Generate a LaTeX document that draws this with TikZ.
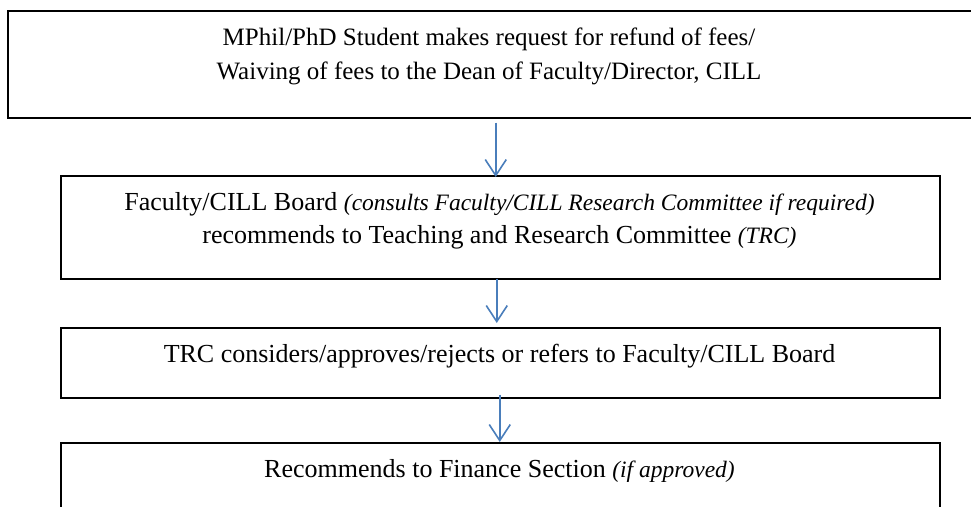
\documentclass[tikz,border=0pt]{standalone}
\usepackage{fontspec}
\setmainfont{Liberation Serif}
\usetikzlibrary{arrows.meta,calc}
\definecolor{arrowblue}{RGB}{74,126,187}
\newcommand{\itpart}[1]{{\fontsize{23.5}{28}\selectfont\itshape #1}}
\tikzset{
  box/.style={draw=black, line width=1.5pt, anchor=north west, inner sep=0pt, minimum width=879pt},
  txt/.style={anchor=base, inner sep=0pt, font=\fontsize{26}{31}\selectfont},
  txtA/.style={anchor=base, inner sep=0pt, font=\fontsize{25}{30}\selectfont},
  flow/.style={draw=arrowblue, line width=1.6pt, -{Straight Barb[length=16pt,width=21pt,line width=1.6pt]}}
}
\begin{document}
\begin{tikzpicture}[x=1pt,y=-1pt]
\useasboundingbox (0,0) rectangle (971,506);
\clip (0,0) rectangle (971,506);
\node[box, minimum width=975pt, minimum height=107pt] (b1) at (7,10) {};
\node[box, minimum height=103pt] (b2) at (60,175) {};
\node[box, minimum height=70pt] (b3) at (60,327) {};
\node[box, minimum height=90pt] (b4) at (60,442) {};

\node[txtA] (t1a) at (489,45) {MPhil/PhD Student makes request for refund of fees/};
\node[txtA] (t1b) at (489,79) {Waiving of fees to the Dean of Faculty/Director, CILL};
\node[txt] (t2a) at (499.5,210) {Faculty/CILL Board \itpart{(consults Faculty/CILL Research Committee if required)}};
\node[txt] (t2b) at (499.5,243) {recommends to Teaching and Research Committee \itpart{(TRC)}};
\node[txt] (t3) at (499.5,362) {TRC considers/approves/rejects or refers to Faculty/CILL Board};
\node[txt] (t4) at (499.5,477) {Recommends to Finance Section \itpart{(if approved)}};

\draw[flow] ($(b1.south -| b2.north)+(-4.5,4)$) -- ($(b2.north)+(-4.5,2)$);
\draw[flow] ($(b2.south)+(-3.5,-1)$) -- ($(b3.north)+(-3.5,-4)$);
\draw[flow] ($(b3.south)+(-0.5,-4)$) -- ($(b4.north)+(-0.5,0)$);
\end{tikzpicture}
\end{document}
